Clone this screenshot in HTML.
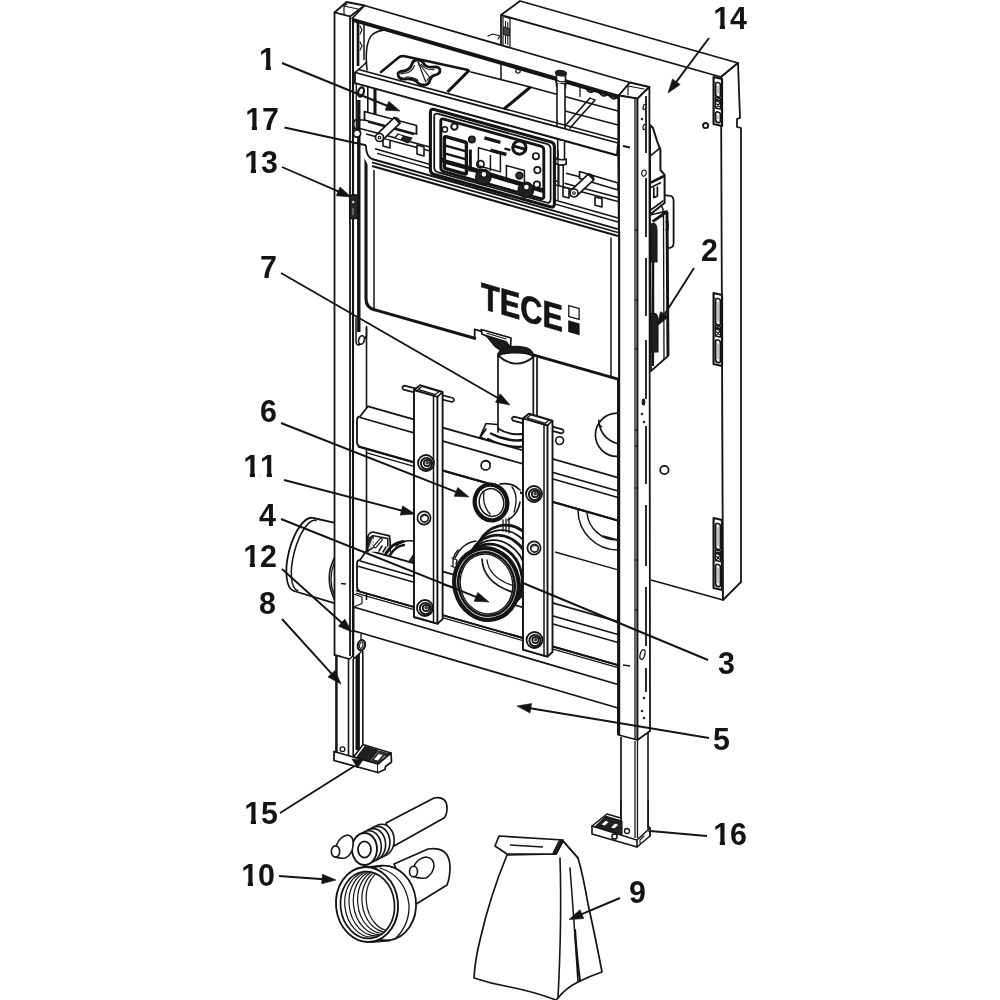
<!DOCTYPE html>
<html lang="en"><head><meta charset="utf-8"><title>TECE module exploded view</title>
<style>
html,body{margin:0;padding:0;background:#fff;}
body{width:1000px;height:1000px;overflow:hidden;}
svg{display:block;will-change:transform;}
text{font-family:"Liberation Sans",sans-serif;font-weight:700;fill:#141414;font-kerning:none}
</style></head><body>
<svg width="1000" height="1000" viewBox="0 0 1000 1000">
<rect width="1000" height="1000" fill="#fff"/>
<polygon points="501,15 520,1 738,63 721,77" fill="#fff" stroke="#141414" stroke-width="1.8" stroke-linejoin="round"/>
<line x1="501" y1="15" x2="501" y2="46" stroke="#141414" stroke-width="1.8"/>
<polygon points="503,16.5 510,18.5 510,48 503,46" fill="#fff" stroke="#141414" stroke-width="1.2" stroke-linejoin="round"/>
<line x1="505.5" y1="21" x2="505.5" y2="44" stroke="#141414" stroke-width="1.1"/>
<line x1="507.8" y1="22" x2="507.8" y2="45" stroke="#141414" stroke-width="1.1"/>
<polygon points="503.5,27 509.5,28.5 509.5,36 503.5,34.5" fill="#444" stroke="#141414" stroke-width="0.9" stroke-linejoin="round"/>
<line x1="722" y1="77" x2="723" y2="600" stroke="#141414" stroke-width="1.8"/>
<polygon points="721,77 738,63 740,118 737,119 737,127 741,128 741,582 723,600" fill="#fff" stroke="#141414" stroke-width="1.8" stroke-linejoin="round"/>
<line x1="723" y1="600" x2="651" y2="580" stroke="#141414" stroke-width="1.8"/>
<circle cx="705.6" cy="125.6" r="2.6" fill="#fff" stroke="#141414" stroke-width="1.8"/>
<circle cx="664.4" cy="470" r="4.2" fill="#fff" stroke="#141414" stroke-width="1.8"/>
<polygon points="713.6,77 722,79 722,126 713.6,124" fill="#fff" stroke="#141414" stroke-width="2.2" stroke-linejoin="round"/>
<path d="M715.6,84 Q715.6,82 717.8,82.5 Q720.4,83 720.4,85 L720.4,95.5 Q720.4,97.5 718,97.1 Q715.6,96.5 715.6,94.5 Z" fill="#fff" stroke="#141414" stroke-width="1.7" stroke-linejoin="round" stroke-linecap="round" />
<line x1="718" y1="86" x2="718" y2="93.5" stroke="#888" stroke-width="1"/>
<path d="M715.6,113.5 Q715.6,111.5 717.8,112.0 Q720.4,112.5 720.4,114.5 L720.4,121 Q720.4,123 718,122.6 Q715.6,122 715.6,120 Z" fill="#fff" stroke="#141414" stroke-width="1.7" stroke-linejoin="round" stroke-linecap="round" />
<line x1="718" y1="115.5" x2="718" y2="119" stroke="#888" stroke-width="1"/>
<path d="M715.4,97.5 L720.6,98.5 L720.6,109.0 L715.4,108.0 Z" fill="#fff" stroke="#141414" stroke-width="1.3" stroke-linejoin="round" stroke-linecap="round" />
<path d="M716.6,99.5 l3,0.6 l0,2 l-3,-0.6 Z M716.6,104.0 l3,2.5 M719.6,103.5 l-3,3.6" fill="#333" stroke="#141414" stroke-width="1.2" stroke-linejoin="round" stroke-linecap="round" />
<polygon points="713.6,293 722,295 722,366 713.6,364" fill="#fff" stroke="#141414" stroke-width="2.2" stroke-linejoin="round"/>
<path d="M715.6,300 Q715.6,298 717.8,298.5 Q720.4,299 720.4,301 L720.4,323.5 Q720.4,325.5 718,325.1 Q715.6,324.5 715.6,322.5 Z" fill="#fff" stroke="#141414" stroke-width="1.7" stroke-linejoin="round" stroke-linecap="round" />
<line x1="718" y1="302" x2="718" y2="321.5" stroke="#888" stroke-width="1"/>
<path d="M715.6,341.5 Q715.6,339.5 717.8,340.0 Q720.4,340.5 720.4,342.5 L720.4,361 Q720.4,363 718,362.6 Q715.6,362 715.6,360 Z" fill="#fff" stroke="#141414" stroke-width="1.7" stroke-linejoin="round" stroke-linecap="round" />
<line x1="718" y1="343.5" x2="718" y2="359" stroke="#888" stroke-width="1"/>
<path d="M715.4,325.5 L720.6,326.5 L720.6,337.0 L715.4,336.0 Z" fill="#fff" stroke="#141414" stroke-width="1.3" stroke-linejoin="round" stroke-linecap="round" />
<path d="M716.6,327.5 l3,0.6 l0,2 l-3,-0.6 Z M716.6,332.0 l3,2.5 M719.6,331.5 l-3,3.6" fill="#333" stroke="#141414" stroke-width="1.2" stroke-linejoin="round" stroke-linecap="round" />
<polygon points="713.6,518 722,520 722,590 713.6,588" fill="#fff" stroke="#141414" stroke-width="2.2" stroke-linejoin="round"/>
<path d="M715.6,525 Q715.6,523 717.8,523.5 Q720.4,524 720.4,526 L720.4,548.0 Q720.4,550.0 718,549.6 Q715.6,549.0 715.6,547.0 Z" fill="#fff" stroke="#141414" stroke-width="1.7" stroke-linejoin="round" stroke-linecap="round" />
<line x1="718" y1="527" x2="718" y2="546" stroke="#888" stroke-width="1"/>
<path d="M715.6,566.0 Q715.6,564.0 717.8,564.5 Q720.4,565.0 720.4,567.0 L720.4,585 Q720.4,587 718,586.6 Q715.6,586 715.6,584 Z" fill="#fff" stroke="#141414" stroke-width="1.7" stroke-linejoin="round" stroke-linecap="round" />
<line x1="718" y1="568" x2="718" y2="583" stroke="#888" stroke-width="1"/>
<path d="M715.4,550.0 L720.6,551.0 L720.6,561.5 L715.4,560.5 Z" fill="#fff" stroke="#141414" stroke-width="1.3" stroke-linejoin="round" stroke-linecap="round" />
<path d="M716.6,552.0 l3,0.6 l0,2 l-3,-0.6 Z M716.6,556.5 l3,2.5 M719.6,556.0 l-3,3.6" fill="#333" stroke="#141414" stroke-width="1.2" stroke-linejoin="round" stroke-linecap="round" />
<polygon points="650,215 667,211 668,356 651,371" fill="#fff" stroke="#141414" stroke-width="1.7" stroke-linejoin="round"/>
<line x1="667" y1="212" x2="668" y2="356" stroke="#141414" stroke-width="2.9"/>
<line x1="663.5" y1="216" x2="664" y2="359" stroke="#141414" stroke-width="1.3"/>
<path d="M664.6,195.2 L670,195.8 Q673.6,196 673.6,201.2 L673.6,243.2 Q673.6,248 668.2,248" fill="none" stroke="#141414" stroke-width="1.8" stroke-linejoin="round" stroke-linecap="round" />
<path d="M650,125 L653,128 L657,141 L660.4,149.6 L660.4,170 L664.6,174.8 L664.6,203 L652,213 L650,213 Z" fill="#fff" stroke="#141414" stroke-width="2" stroke-linejoin="round" stroke-linecap="round" />
<line x1="650.8" y1="155.6" x2="660.4" y2="147.6" stroke="#141414" stroke-width="1.6"/>
<line x1="650.8" y1="182.6" x2="664" y2="176" stroke="#141414" stroke-width="2.7"/>
<line x1="651" y1="187.5" x2="661" y2="182.5" stroke="#141414" stroke-width="1.5"/>
<path d="M653.8,188 L653.8,197.6 L657.4,196 L657.4,187" fill="none" stroke="#141414" stroke-width="1.7" stroke-linejoin="round" stroke-linecap="round" />
<line x1="650.8" y1="210" x2="663.4" y2="200.6" stroke="#141414" stroke-width="1.6"/>
<line x1="652.6" y1="221.6" x2="666.4" y2="212" stroke="#141414" stroke-width="2.9"/>
<path d="M661,205 l2,4 l0,8 M666,222 l2,0 l0,8 l-2,0" fill="none" stroke="#141414" stroke-width="1.5" stroke-linejoin="round" stroke-linecap="round" />
<path d="M651,224 Q657,221 657,231 L657,262 L651,262 Z" fill="#1e1e1e" stroke="#141414" stroke-width="1.1" stroke-linejoin="round" stroke-linecap="round" />
<line x1="653" y1="262" x2="653" y2="314" stroke="#141414" stroke-width="2.5"/>
<path d="M651,314 Q658,311 658,321 L658,352 L651,352 Z" fill="#1e1e1e" stroke="#141414" stroke-width="1.1" stroke-linejoin="round" stroke-linecap="round" />
<line x1="653" y1="352" x2="653" y2="366" stroke="#141414" stroke-width="2.2"/>
<path d="M313.2,518 A14.9,37.7 14.6 0 0 294,591 L336,603.8 L336,523.2 Z" fill="#fff" stroke="none"/>
<path d="M313.2,518 A14.9,37.7 14.6 0 0 294,591" fill="none" stroke="#141414" stroke-width="1.8" stroke-linejoin="round" stroke-linecap="round" />
<path d="M316,520.5 A12.6,35.2 14.6 0 0 297.6,590.5" fill="none" stroke="#141414" stroke-width="1.5" stroke-linejoin="round" stroke-linecap="round" />
<line x1="313.2" y1="518" x2="335" y2="522.9" stroke="#141414" stroke-width="1.8"/>
<line x1="294" y1="591" x2="335" y2="603.4" stroke="#141414" stroke-width="1.8"/>
<path d="M334.5,557.6 Q324,578 334.5,599.6" fill="none" stroke="#141414" stroke-width="1.6" stroke-linejoin="round" stroke-linecap="round" />
<path d="M334.5,562 Q327.5,579 334.5,596" fill="none" stroke="#141414" stroke-width="1.3" stroke-linejoin="round" stroke-linecap="round" />
<line x1="358" y1="21" x2="358" y2="66" stroke="#141414" stroke-width="2.7"/>
<line x1="364" y1="23" x2="364" y2="60" stroke="#141414" stroke-width="1.5"/>
<path d="M360,26 l2,4 l-2,4 M360,42 l2,4 l-2,4" fill="none" stroke="#141414" stroke-width="1.2" stroke-linejoin="round" stroke-linecap="round" />
<path d="M367,70 Q364,42 373,34 Q380,29 392,30" fill="none" stroke="#141414" stroke-width="1.6" stroke-linejoin="round" stroke-linecap="round" />
<path d="M381,72 L398,58 Q401,55 406,56.5 L468,70" fill="none" stroke="#141414" stroke-width="2.5" stroke-linejoin="round" stroke-linecap="round" />
<line x1="469.5" y1="70" x2="447.5" y2="92" stroke="#141414" stroke-width="3.1"/>
<path d="M471,72 L530,87" fill="none" stroke="#141414" stroke-width="1.7" stroke-linejoin="round" stroke-linecap="round" />
<line x1="530.5" y1="87" x2="504" y2="109" stroke="#141414" stroke-width="3.1"/>
<line x1="501" y1="58" x2="501" y2="80" stroke="#141414" stroke-width="1.5"/>
<circle cx="518" cy="71" r="2.2" fill="#fff" stroke="#141414" stroke-width="1.2"/>
<line x1="530" y1="87" x2="618" y2="111" stroke="#141414" stroke-width="1.5"/>
<path d="M398,74 Q398,71.5 404,71 Q410,70 412,64 Q413,60 417.5,60 Q422,60 424,64 Q427,68 434,67 Q440,66.5 440,70.5 Q440,74 435,75 Q431,76 430,80 Q429,85 424,85 Q419,85 416,81 Q412,78.5 405,79 Q398,79.5 398,74 Z" fill="#fff" stroke="#141414" stroke-width="2.8" stroke-linejoin="round" stroke-linecap="round" />
<path d="M401,74 Q402,73 405,73.2 Q412,72.5 414.5,65.5 M421.5,64.5 Q425.5,70.5 434,69.6 M427,81 Q427.6,77.5 432,76.5 M418,80.5 Q414,76.5 406,77" fill="none" stroke="#141414" stroke-width="1.1" stroke-linejoin="round" stroke-linecap="round" />
<line x1="418" y1="62" x2="426" y2="82.5" stroke="#141414" stroke-width="1.2"/>
<line x1="418" y1="62" x2="430.5" y2="78.5" stroke="#141414" stroke-width="1.1"/>
<path d="M488,36 l5,-2 l7,2 l-2,3" fill="none" stroke="#141414" stroke-width="1.2" stroke-linejoin="round" stroke-linecap="round" />
<path d="M565,126 L590,98 M570,128 L595,100" fill="none" stroke="#141414" stroke-width="1.6" stroke-linejoin="round" stroke-linecap="round" />
<line x1="590" y1="98" x2="595" y2="100" stroke="#141414" stroke-width="1.3"/>
<path d="M586,88.604 q4,6 8,2" fill="none" stroke="#141414" stroke-width="1.8" stroke-linejoin="round" stroke-linecap="round" />
<path d="M599,92.348 q4,6 8,2" fill="none" stroke="#141414" stroke-width="1.8" stroke-linejoin="round" stroke-linecap="round" />
<path d="M609,95.228 q4,6 8,2" fill="none" stroke="#141414" stroke-width="1.8" stroke-linejoin="round" stroke-linecap="round" />
<line x1="580" y1="86" x2="580" y2="97" stroke="#141414" stroke-width="1.3"/>
<line x1="565" y1="111" x2="618" y2="125" stroke="#141414" stroke-width="1.3"/>
<rect x="557" y="76" width="8" height="106" fill="#fff" stroke="none"/>
<line x1="557" y1="78" x2="557" y2="182" stroke="#141414" stroke-width="1.6"/>
<line x1="565" y1="80" x2="565" y2="184" stroke="#141414" stroke-width="1.6"/>
<ellipse cx="561" cy="73.5" rx="5" ry="2.2" transform="rotate(10 561 73.5)" fill="#222" stroke="#141414" stroke-width="1.3"/>
<path d="M556,76 L556,82 L566,84 L566,78" fill="none" stroke="#141414" stroke-width="1.5" stroke-linejoin="round" stroke-linecap="round" />
<polygon points="364.5,5.5 630,82.5 618.7,95.5 352,18.5" fill="#fff" stroke="#141414" stroke-width="1.8" stroke-linejoin="round"/>
<line x1="352" y1="20" x2="618.7" y2="97.5" stroke="#141414" stroke-width="3.1"/>
<polygon points="355,72.5 618,143 617,155.5 355,83.5" fill="#fff" stroke="#141414" stroke-width="1.8" stroke-linejoin="round"/>
<line x1="355" y1="72.5" x2="367" y2="62" stroke="#141414" stroke-width="1.6"/>
<line x1="358.5" y1="69.5" x2="618" y2="139.5" stroke="#141414" stroke-width="1.5"/>
<line x1="355" y1="83.5" x2="617" y2="155.5" stroke="#141414" stroke-width="2.7"/>
<polygon points="334.5,12.5 346.5,2 364.5,5.5 350,16.5" fill="#fff" stroke="#141414" stroke-width="1.8" stroke-linejoin="round"/>
<polygon points="334.5,12.5 350,16.5 350,659 334.5,655" fill="#fff" stroke="#141414" stroke-width="1.8" stroke-linejoin="round"/>
<line x1="353" y1="19" x2="353" y2="659" stroke="#141414" stroke-width="2.1"/>
<path d="M344,14 L344,6 L347,4 M344,6 L358,9" fill="none" stroke="#141414" stroke-width="1.2" stroke-linejoin="round" stroke-linecap="round" />
<polygon points="618.7,95.5 630,82.5 649.4,87 637.5,98.7" fill="#fff" stroke="#141414" stroke-width="1.8" stroke-linejoin="round"/>
<polygon points="618.7,95.5 637.5,98.7 637.5,740 618.7,735" fill="#fff" stroke="#141414" stroke-width="1.8" stroke-linejoin="round"/>
<polygon points="637.5,98.7 649.4,87 650,731 637.5,740" fill="#fff" stroke="#141414" stroke-width="1.8" stroke-linejoin="round"/>
<line x1="635" y1="98" x2="635" y2="739" stroke="#141414" stroke-width="1.3"/>
<line x1="618.7" y1="95.5" x2="618.7" y2="735" stroke="#141414" stroke-width="2.5"/>
<line x1="618.6" y1="232" x2="618.6" y2="735" stroke="#141414" stroke-width="3.2"/>
<path d="M628,95 L628,86 M628,86 L644,89" fill="none" stroke="#141414" stroke-width="1.2" stroke-linejoin="round" stroke-linecap="round" />
<line x1="646" y1="96" x2="646" y2="153" stroke="#141414" stroke-width="1.8"/>
<line x1="646" y1="178" x2="646" y2="237" stroke="#141414" stroke-width="1.8"/>
<line x1="646" y1="258" x2="646" y2="316" stroke="#141414" stroke-width="1.8"/>
<line x1="646" y1="340" x2="646" y2="399" stroke="#141414" stroke-width="1.8"/>
<line x1="646" y1="426" x2="646" y2="484" stroke="#141414" stroke-width="1.8"/>
<line x1="646" y1="505" x2="646" y2="566" stroke="#141414" stroke-width="1.8"/>
<line x1="646" y1="587" x2="646" y2="646" stroke="#141414" stroke-width="1.8"/>
<line x1="646" y1="668" x2="646" y2="692" stroke="#141414" stroke-width="1.8"/>
<ellipse cx="644.5" cy="107" rx="1.4" ry="2.6" transform="rotate(10 644.5 107)" fill="#fff" stroke="#141414" stroke-width="1.2"/>
<ellipse cx="644.5" cy="127" rx="1.4" ry="2.6" transform="rotate(10 644.5 127)" fill="#fff" stroke="#141414" stroke-width="1.2"/>
<path d="M644,170 q-3,1 -2,5 q2,3 4,-1 q1,-4 -2,-4" fill="none" stroke="#141414" stroke-width="1.2" stroke-linejoin="round" stroke-linecap="round" />
<ellipse cx="642.5" cy="654.5" rx="2.3" ry="5" transform="rotate(15 642.5 654.5)" fill="#fff" stroke="#141414" stroke-width="1.3"/>
<ellipse cx="643.5" cy="402" rx="1.3" ry="3" transform="rotate(0 643.5 402)" fill="#222" stroke="#141414" stroke-width="1.1"/>
<circle cx="642" cy="414" r="0.9" fill="#222" stroke="#141414" stroke-width="0.9"/>
<circle cx="644" cy="422" r="0.9" fill="#222" stroke="#141414" stroke-width="0.9"/>
<circle cx="644" cy="698" r="0.9" fill="#222" stroke="#141414" stroke-width="0.9"/>
<circle cx="642" cy="711" r="0.9" fill="#222" stroke="#141414" stroke-width="0.9"/>
<circle cx="644" cy="718" r="0.9" fill="#222" stroke="#141414" stroke-width="0.9"/>
<circle cx="642" cy="119" r="0.9" fill="#222" stroke="#141414" stroke-width="0.9"/>
<line x1="623" y1="665" x2="630" y2="666" stroke="#141414" stroke-width="1.6"/>
<line x1="623" y1="146" x2="630" y2="147.5" stroke="#141414" stroke-width="1.8"/>
<line x1="341" y1="583.5" x2="346" y2="584" stroke="#141414" stroke-width="1.3"/>
<line x1="634.5" y1="349" x2="637.8" y2="349" stroke="#141414" stroke-width="1.1"/>
<line x1="634.5" y1="430" x2="637.8" y2="430" stroke="#141414" stroke-width="1.1"/>
<line x1="634.5" y1="446" x2="637.8" y2="446" stroke="#141414" stroke-width="1.1"/>
<line x1="634.5" y1="488" x2="637.8" y2="488" stroke="#141414" stroke-width="1.1"/>
<line x1="634.5" y1="230" x2="637.8" y2="230" stroke="#141414" stroke-width="1.1"/>
<line x1="634.5" y1="300" x2="637.8" y2="300" stroke="#141414" stroke-width="1.1"/>
<line x1="634.5" y1="560" x2="637.8" y2="560" stroke="#141414" stroke-width="1.1"/>
<line x1="634.5" y1="610" x2="637.8" y2="610" stroke="#141414" stroke-width="1.1"/>
<rect x="556.5" y="74" width="9" height="9" fill="#fff" stroke="none"/>
<path d="M556.5,75 L556.5,86 M565.5,76 L565.5,88" fill="none" stroke="#141414" stroke-width="1.6" stroke-linejoin="round" stroke-linecap="round" />
<ellipse cx="561" cy="73.2" rx="5.4" ry="2.6" transform="rotate(8 561 73.2)" fill="#222" stroke="#141414" stroke-width="1.3"/>
<path d="M556.5,80 Q561,83 565.5,81" fill="none" stroke="#141414" stroke-width="1.3" stroke-linejoin="round" stroke-linecap="round" />
<path d="M366.3,150 L366.3,299 Q366.3,308 375,309.87 L474.7,338.28450000000004 L474.7,329.28450000000004 L481,331.08000000000004 L533,354.90000000000003 L618,379.125 L618,228 L365.5,150 Z" fill="#fff" stroke="#fff" stroke-width="0.1" stroke-linejoin="round" stroke-linecap="round" />
<path d="M366,135 L366,299 Q366,308 375,309.87 L474.7,338.28450000000004" fill="none" stroke="#141414" stroke-width="3.1" stroke-linejoin="round" stroke-linecap="round" />
<path d="M474.7,338.78450000000004 L474.7,329.28450000000004 L481,331.08000000000004" fill="none" stroke="#141414" stroke-width="1.8" stroke-linejoin="round" stroke-linecap="round" />
<path d="M533,354.90000000000003 L618,379.125" fill="none" stroke="#141414" stroke-width="2.7" stroke-linejoin="round" stroke-linecap="round" />
<line x1="374" y1="166" x2="374" y2="309.6" stroke="#141414" stroke-width="1.5"/>
<line x1="611" y1="234.5" x2="611" y2="377.1" stroke="#141414" stroke-width="1.5"/>
<path d="M355,84 L617,156.5 L618,239.52499999999998 L370,168.845 L360,150 Z" fill="#fff" stroke="none"/>
<line x1="372" y1="159" x2="618" y2="229.1" stroke="#141414" stroke-width="2"/>
<line x1="372" y1="162.4" x2="618" y2="232.5" stroke="#141414" stroke-width="1.7"/>
<line x1="372" y1="166" x2="618" y2="236.1" stroke="#141414" stroke-width="2.1"/>
<path d="M366,146 Q366,156 372,159" fill="none" stroke="#141414" stroke-width="1.8" stroke-linejoin="round" stroke-linecap="round" />
<line x1="375" y1="148.8" x2="618" y2="218" stroke="#141414" stroke-width="1.5"/>
<line x1="377" y1="153.3" x2="618" y2="222" stroke="#141414" stroke-width="1.3"/>
<line x1="356.3" y1="84" x2="356.3" y2="130" stroke="#141414" stroke-width="1.3"/>
<line x1="358.8" y1="100" x2="358.8" y2="332" stroke="#141414" stroke-width="3.4"/>
<path d="M349.8,196 Q354,193.5 358,196 L358,218.5 L349.8,218.5 Z" fill="#262626" stroke="#141414" stroke-width="1.7" stroke-linejoin="round" stroke-linecap="round" />
<circle cx="353.2" cy="202" r="1.5" fill="#fff" stroke="#141414" stroke-width="0.7"/>
<line x1="353" y1="208" x2="353" y2="215" stroke="#999" stroke-width="1.1"/>
<path d="M356,318 L356,342 Q358,350 366.5,336 L366.5,328" fill="none" stroke="#141414" stroke-width="1.5" stroke-linejoin="round" stroke-linecap="round" />
<ellipse cx="361.5" cy="340" rx="2.8" ry="4.3" transform="rotate(15 361.5 340)" fill="#fff" stroke="#141414" stroke-width="1.6"/>
<line x1="367.8" y1="86.5" x2="367.8" y2="118" stroke="#141414" stroke-width="1.6"/>
<line x1="375" y1="89" x2="375" y2="122" stroke="#141414" stroke-width="3.1"/>
<line x1="358" y1="128" x2="430" y2="147" stroke="#141414" stroke-width="1.7"/>
<line x1="366" y1="134" x2="430" y2="151" stroke="#141414" stroke-width="1.3"/>
<polygon points="364.5,111.5 416.5,125.5 416.5,134 364.5,120" fill="#fff" stroke="#141414" stroke-width="1.8" stroke-linejoin="round"/>
<path d="M364.5,120 L355,120 M355,120 Q352,124 355,129 L358,128" fill="none" stroke="#141414" stroke-width="1.7" stroke-linejoin="round" stroke-linecap="round" />
<line x1="368" y1="122" x2="414" y2="134.5" stroke="#141414" stroke-width="1.3"/>
<path d="M383,139 L383,146 L390,148 L390,141" fill="#fff" stroke="#141414" stroke-width="1.6" stroke-linejoin="round" stroke-linecap="round" />
<path d="M398,134 L404,136 L401,140 L395,138 Z" fill="#fff" stroke="#141414" stroke-width="1.3" stroke-linejoin="round" stroke-linecap="round" />
<path d="M404,136 L412,138 L408,143 L401,140 Z" fill="#222" stroke="#141414" stroke-width="1.1" stroke-linejoin="round" stroke-linecap="round" />
<polygon points="417,145 424,147 424,156 417,154" fill="#fff" stroke="#141414" stroke-width="1.6" stroke-linejoin="round"/>
<polygon points="382.3,140.4 399.8,123.4 394.2,117.6 376.7,134.6" fill="#fff" stroke="#141414" stroke-width="1.7" stroke-linejoin="round"/>
<path d="M399.8,123.4 Q399.5,117.5 394.2,117.6" fill="#222" stroke="#141414" stroke-width="1.7" stroke-linejoin="round" stroke-linecap="round" />
<circle cx="379.5" cy="137.5" r="4" fill="#fff" stroke="#141414" stroke-width="1.7"/>
<circle cx="379.5" cy="137.5" r="1.3" fill="#fff" stroke="#141414" stroke-width="1.1"/>
<circle cx="357" cy="133.5" r="3.6" fill="#fff" stroke="#141414" stroke-width="1.8"/>
<ellipse cx="361" cy="92" rx="2.8" ry="4.8" transform="rotate(15 361 92)" fill="#fff" stroke="#141414" stroke-width="2.2"/>
<line x1="556" y1="181" x2="618" y2="197.5" stroke="#141414" stroke-width="1.7"/>
<line x1="556" y1="185" x2="618" y2="201.5" stroke="#141414" stroke-width="1.3"/>
<polygon points="579.5,171.5 618,183 618,190 579.5,178.5" fill="#fff" stroke="#141414" stroke-width="1.7" stroke-linejoin="round"/>
<polygon points="563,187 569,188.6 569,198 563,196.4" fill="#fff" stroke="#141414" stroke-width="1.6" stroke-linejoin="round"/>
<polygon points="595,197 602,198.8 602,207 595,205.2" fill="#fff" stroke="#141414" stroke-width="1.6" stroke-linejoin="round"/>
<polygon points="576.7,195.9 593.7,179.9 588.3,174.1 571.3,190.1" fill="#fff" stroke="#141414" stroke-width="1.7" stroke-linejoin="round"/>
<path d="M593.7,179.9 Q593.5,174 588.3,174.1" fill="#222" stroke="#141414" stroke-width="1.7" stroke-linejoin="round" stroke-linecap="round" />
<circle cx="574" cy="193" r="4" fill="#fff" stroke="#141414" stroke-width="1.7"/>
<circle cx="574" cy="193" r="1.3" fill="#fff" stroke="#141414" stroke-width="1.1"/>
<rect x="558" y="141" width="6.5" height="44" fill="#fff" stroke="none"/>
<line x1="557.7" y1="139" x2="557.7" y2="158" stroke="#141414" stroke-width="1.6"/>
<line x1="564.5" y1="141" x2="564.5" y2="159" stroke="#141414" stroke-width="1.6"/>
<line x1="558.8" y1="164" x2="558.8" y2="186" stroke="#141414" stroke-width="1.5"/>
<line x1="563.2" y1="165" x2="563.2" y2="187" stroke="#141414" stroke-width="1.5"/>
<path d="M555.6,158 Q561,161 566.2,159 L566.2,164 Q561,166.5 555.6,163.5 Z" fill="#fff" stroke="#141414" stroke-width="1.6" stroke-linejoin="round" stroke-linecap="round" />
<line x1="566" y1="173.2" x2="579.5" y2="176.8" stroke="#141414" stroke-width="1.5"/>
<line x1="558" y1="150" x2="558" y2="200" stroke="#141414" stroke-width="1.3"/>
<path d="M434.4,109.5 L550.4,141.8 Q554.4,142.9 554.4,146.9 L554.4,203.9 Q554.4,207.9 550.4,206.8 L434.4,174.5 Q430.4,173.4 430.4,169.4 L430.4,112.4 Q430.4,108.4 434.4,109.5 Z" fill="#fff" stroke="#141414" stroke-width="3.1" stroke-linejoin="round" stroke-linecap="round" />
<path d="M438.2,113.8 L546.6,143.9 Q550.6,145 550.6,149 L550.6,199.6 Q550.6,203.6 546.6,202.5 L438.2,172.4 Q434.2,171.3 434.2,167.3 L434.2,116.7 Q434.2,112.7 438.2,113.8 Z" fill="#fff" stroke="#141414" stroke-width="1.8" stroke-linejoin="round" stroke-linecap="round" />
<path d="M443.8,119.1 L540.8,146.1 Q543.8,146.9 543.8,149.9 L543.8,196.4 Q543.8,199.4 540.8,198.6 L443.8,171.6 Q440.8,170.8 440.8,167.8 L440.8,121.3 Q440.8,118.3 443.8,119.1 Z" fill="#fff" stroke="#141414" stroke-width="2.9" stroke-linejoin="round" stroke-linecap="round" />
<line x1="441.4" y1="160" x2="543.4" y2="190.8" stroke="#141414" stroke-width="4.7"/>
<path d="M445.9,136.7 L464.9,142 Q466.4,142.4 466.4,143.9 L466.4,172.9 Q466.4,174.4 464.9,174 L445.9,168.7 Q444.4,168.3 444.4,166.8 L444.4,137.8 Q444.4,136.3 445.9,136.7 Z" fill="#fff" stroke="#141414" stroke-width="3.4" stroke-linejoin="round" stroke-linecap="round" />
<line x1="445.4" y1="145.6" x2="465.4" y2="151.1" stroke="#141414" stroke-width="2.5"/>
<line x1="445.4" y1="153.6" x2="465.4" y2="159.1" stroke="#141414" stroke-width="2.5"/>
<line x1="445.4" y1="161.6" x2="465.4" y2="167.1" stroke="#141414" stroke-width="4.5"/>
<line x1="470.4" y1="149.5" x2="470.4" y2="171.5" stroke="#141414" stroke-width="2.9"/>
<circle cx="444.9" cy="129.4" r="2.6" fill="#fff" stroke="#141414" stroke-width="1.5"/>
<circle cx="454.4" cy="126.6" r="3.2" fill="#fff" stroke="#141414" stroke-width="2"/>
<circle cx="471.9" cy="139.4" r="3.2" fill="#333" stroke="#141414" stroke-width="1.6"/>
<circle cx="480.4" cy="164.3" r="3.6" fill="#fff" stroke="#141414" stroke-width="1.8"/>
<circle cx="535.9" cy="156.2" r="3.2" fill="#fff" stroke="#141414" stroke-width="1.7"/>
<circle cx="537.4" cy="170.1" r="3.2" fill="#fff" stroke="#141414" stroke-width="1.7"/>
<circle cx="536.9" cy="184.5" r="3.2" fill="#fff" stroke="#141414" stroke-width="1.7"/>
<circle cx="519.4" cy="175.6" r="3.4" fill="#333" stroke="#141414" stroke-width="1.6"/>
<circle cx="519.4" cy="147.6" r="6.6" fill="#fff" stroke="#141414" stroke-width="3.1"/>
<line x1="512.4" y1="145.7" x2="526.4" y2="149.6" stroke="#141414" stroke-width="2.9"/>
<line x1="484.4" y1="137.9" x2="500.4" y2="142.4" stroke="#141414" stroke-width="3.4"/>
<line x1="490.4" y1="150.1" x2="506.4" y2="154.5" stroke="#141414" stroke-width="3.4"/>
<line x1="504.4" y1="148.5" x2="510.4" y2="150.1" stroke="#141414" stroke-width="2.2"/>
<polygon points="478.4,147.7 500.4,153.9 500.4,171.9 478.4,165.7" fill="none" stroke="#141414" stroke-width="1.5" stroke-linejoin="round"/>
<polygon points="506.4,165.5 524.4,170.5 524.4,184.5 506.4,179.5" fill="none" stroke="#141414" stroke-width="1.5" stroke-linejoin="round"/>
<line x1="490.4" y1="155.1" x2="490.4" y2="171.1" stroke="#141414" stroke-width="1.5"/>
<circle cx="483.4" cy="177.1" r="7.6" fill="#222" stroke="#141414" stroke-width="1.6"/>
<circle cx="483.9" cy="174.3" r="3" fill="#fff" stroke="#141414" stroke-width="1.3"/>
<circle cx="525.9" cy="189.9" r="7.6" fill="#222" stroke="#141414" stroke-width="1.6"/>
<circle cx="526.4" cy="187.1" r="3" fill="#fff" stroke="#141414" stroke-width="1.3"/>
<g transform="translate(481,308.5) skewY(15.9)"><text x="0" y="0" font-size="37.5" textLength="82" lengthAdjust="spacingAndGlyphs" stroke="#141414" stroke-width="0.7" style="font-weight:700">TECE</text><rect x="87.8" y="-27.9" width="10.3" height="10.8" fill="#fff" stroke="#141414" stroke-width="1.3"/><rect x="87.2" y="-13.2" width="11.4" height="11.8" fill="#141414"/></g>
<line x1="366.5" y1="326" x2="366.5" y2="600" stroke="#141414" stroke-width="1.6"/>
<path d="M498,352 L533,358 L533,436 L498,436 Z" fill="#fff" stroke="none"/>
<path d="M481,331.5 Q488,337 493,344 Q497,349.5 505,351 L510.8,348 L506.5,342.5 Q497,339.5 489,335.5 Q484,333 481,331.5 Z" fill="#1c1c1c" stroke="#141414" stroke-width="1.3" stroke-linejoin="round" stroke-linecap="round" />
<path d="M481.2,329.5 L511,338 L510.6,347.5 L506,341.8 L482,334.2 Z" fill="#fff" stroke="#141414" stroke-width="1.7" stroke-linejoin="round" stroke-linecap="round" />
<path d="M487,333.2 L506,339" fill="none" stroke="#141414" stroke-width="1.1" stroke-linejoin="round" stroke-linecap="round" />
<path d="M498,356.5 Q498,346.5 515.6,346.5 Q533.3,346.5 533.5,357 Q530,352.8 515.6,352.8 Q501,352.8 498,356.5 Z" fill="#1c1c1c" stroke="#141414" stroke-width="1.5" stroke-linejoin="round" stroke-linecap="round" />
<path d="M498,355.5 Q515.6,371 533.5,357" fill="none" stroke="#141414" stroke-width="1.8" stroke-linejoin="round" stroke-linecap="round" />
<path d="M498,354 L498,432 M533.3,357 L533.3,424 M537,358 L537,420" fill="none" stroke="#141414" stroke-width="1.7" stroke-linejoin="round" stroke-linecap="round" />
<path d="M488,439 Q515,453 543,442" fill="none" stroke="#141414" stroke-width="2.2" stroke-linejoin="round" stroke-linecap="round" />
<path d="M491,433.5 Q515,446 538,436" fill="none" stroke="#141414" stroke-width="2.5" stroke-linejoin="round" stroke-linecap="round" />
<path d="M498,428.5 Q515,439 533,430.5" fill="none" stroke="#141414" stroke-width="2" stroke-linejoin="round" stroke-linecap="round" />
<path d="M486,423.5 L497,424.5 M486,423.5 L480,437 L489,441 M486,429 L479,439 M480,437 L476,444 L486,449" fill="none" stroke="#141414" stroke-width="1.7" stroke-linejoin="round" stroke-linecap="round" />
<path d="M617,413.2 A21.6,21.6 0 0 0 617,456.4" fill="none" stroke="#141414" stroke-width="1.7" stroke-linejoin="round" stroke-linecap="round" />
<path d="M598.8,420.4 Q600,438 617,443.6 M598.8,420.4 l0.8,5 l2,1.2" fill="none" stroke="#141414" stroke-width="1.6" stroke-linejoin="round" stroke-linecap="round" />
<path d="M578,510 A40,40 0 0 0 618,550" fill="none" stroke="#141414" stroke-width="1.5" stroke-linejoin="round" stroke-linecap="round" />
<path d="M587,513 A30,30 0 0 0 618,540" fill="none" stroke="#141414" stroke-width="1.5" stroke-linejoin="round" stroke-linecap="round" />
<line x1="603" y1="536" x2="618" y2="540" stroke="#141414" stroke-width="1.3"/>
<line x1="555" y1="552" x2="618" y2="569.9" stroke="#141414" stroke-width="1.5"/>
<path d="M368,406.275 L618,477.525 L618,520.525 L360,446.995 Q357,445.14 357,442.14 L357,420.64 Q357,416.64 360,416.495 Z" fill="#fff" stroke="#141414" stroke-width="1.8" stroke-linejoin="round" stroke-linecap="round" />
<line x1="360" y1="417.5" x2="618" y2="491" stroke="#141414" stroke-width="1.8"/>
<line x1="553" y1="479" x2="618" y2="497.5" stroke="#141414" stroke-width="1.3"/>
<line x1="358" y1="446.4" x2="618" y2="520.5" stroke="#141414" stroke-width="2.2"/>
<line x1="366" y1="452.7" x2="414" y2="466.4" stroke="#141414" stroke-width="1.2"/>
<circle cx="485.6" cy="465.4" r="4.5" fill="#fff" stroke="#141414" stroke-width="1.7"/>
<path d="M482.4,462 q4.5,-4 8,1.5" fill="none" stroke="#141414" stroke-width="1.2" stroke-linejoin="round" stroke-linecap="round" />
<path d="M367,549.99 L618,621.525 L618,665.125 L360,591.595 Q357,589.74 357,586.74 L357,564.14 Q357,560.14 360,559.995 Z" fill="#fff" stroke="#141414" stroke-width="1.8" stroke-linejoin="round" stroke-linecap="round" />
<line x1="360" y1="561" x2="618" y2="634.5" stroke="#141414" stroke-width="1.7"/>
<line x1="358" y1="566.2" x2="414" y2="582.2" stroke="#141414" stroke-width="1.5"/>
<line x1="553" y1="624" x2="618" y2="642.5" stroke="#141414" stroke-width="1.3"/>
<line x1="356" y1="590.5" x2="618" y2="665.1" stroke="#141414" stroke-width="1.8"/>
<line x1="356" y1="593.1" x2="618" y2="667.7" stroke="#141414" stroke-width="1.3"/>
<polygon points="353.6,607 618,684.5 618,708 361,633 353.6,631" fill="#fff" stroke="#141414" stroke-width="1.8" stroke-linejoin="round"/>
<polygon points="353.6,594 353.6,607 362,603.5 362,597" fill="#fff" stroke="#141414" stroke-width="1.2" stroke-linejoin="round"/>
<path d="M367.8,552 L367.8,537 Q368.5,532.5 373,532 L389.5,535.8 L390.2,543 L390.2,551" fill="#fff" stroke="#141414" stroke-width="1.7" stroke-linejoin="round" stroke-linecap="round" />
<path d="M374.6,536 L387.8,538.4 L387.8,546" fill="none" stroke="#141414" stroke-width="1.5" stroke-linejoin="round" stroke-linecap="round" />
<path d="M368.5,538 L373.5,535 L373.5,548 L368.5,551 Z" fill="#2a2a2a" stroke="#141414" stroke-width="0.9" stroke-linejoin="round" stroke-linecap="round" />
<line x1="369" y1="549" x2="373" y2="538.5" stroke="#fff" stroke-width="1.1"/>
<line x1="370.6" y1="548.2" x2="374.6" y2="537.7" stroke="#fff" stroke-width="1.1"/>
<line x1="372.2" y1="547.4" x2="376.2" y2="536.9" stroke="#fff" stroke-width="1.1"/>
<path d="M375,546.5 L381,539.5" fill="none" stroke="#141414" stroke-width="3.6" stroke-linejoin="round" stroke-linecap="round" />
<path d="M375,546.5 L381,539.5" fill="none" stroke="#fff" stroke-width="1.3" stroke-linejoin="round" stroke-linecap="round" />
<path d="M379,551 L382,546 M383,552 L386,547" fill="none" stroke="#141414" stroke-width="1.5" stroke-linejoin="round" stroke-linecap="round" />
<path d="M386,553.5 Q392,543 403,541.5" fill="none" stroke="#141414" stroke-width="3.1" stroke-linejoin="round" stroke-linecap="round" />
<path d="M390,555 Q395,546.5 404,545" fill="none" stroke="#141414" stroke-width="2.5" stroke-linejoin="round" stroke-linecap="round" />
<path d="M396,546 Q404,539.5 413,541" fill="none" stroke="#141414" stroke-width="1.6" stroke-linejoin="round" stroke-linecap="round" />
<path d="M409,561 L413,555 L413,562 Z" fill="#2a2a2a" stroke="#141414" stroke-width="0.9" stroke-linejoin="round" stroke-linecap="round" />
<ellipse cx="507" cy="560" rx="31" ry="35" transform="rotate(-14 507 560)" fill="#fff" stroke="#141414" stroke-width="2.9"/>
<ellipse cx="503" cy="565" rx="31" ry="35" transform="rotate(-14 503 565)" fill="#fff" stroke="#141414" stroke-width="1.8"/>
<ellipse cx="499" cy="570" rx="31" ry="35" transform="rotate(-14 499 570)" fill="#fff" stroke="#141414" stroke-width="2.9"/>
<ellipse cx="495" cy="575" rx="31" ry="35" transform="rotate(-14 495 575)" fill="#fff" stroke="#141414" stroke-width="1.8"/>
<ellipse cx="491" cy="579" rx="31" ry="35" transform="rotate(-14 491 579)" fill="#fff" stroke="#141414" stroke-width="2.9"/>
<path d="M455,558 Q462,543 476,541" fill="none" stroke="#141414" stroke-width="1.6" stroke-linejoin="round" stroke-linecap="round" />
<path d="M453,566 Q452,556 458,550" fill="none" stroke="#141414" stroke-width="1.3" stroke-linejoin="round" stroke-linecap="round" />
<ellipse cx="486.5" cy="584" rx="32" ry="36" transform="rotate(-14 486.5 584)" fill="#fff" stroke="#141414" stroke-width="4.3"/>
<ellipse cx="486.5" cy="584" rx="28" ry="32" transform="rotate(-14 486.5 584)" fill="#fff" stroke="#141414" stroke-width="2.5"/>
<ellipse cx="486.5" cy="584" rx="26" ry="30" transform="rotate(-14 486.5 584)" fill="#fff" stroke="#141414" stroke-width="1.3"/>
<path d="M482,559 Q483,582 512,592" fill="none" stroke="#141414" stroke-width="1.7" stroke-linejoin="round" stroke-linecap="round" />
<path d="M487,560 Q489,578 514,586" fill="none" stroke="#141414" stroke-width="1.3" stroke-linejoin="round" stroke-linecap="round" />
<path d="M452,558 l5,2 l-1,4 M451,566 l5,2" fill="none" stroke="#141414" stroke-width="1.3" stroke-linejoin="round" stroke-linecap="round" />
<path d="M498,484 L520,490 L520,506 L505,518 Z" fill="#fff" stroke="none"/>
<path d="M500,484 Q512,482 520,490 M508,520 Q518,514 520,502" fill="none" stroke="#141414" stroke-width="1.6" stroke-linejoin="round" stroke-linecap="round" />
<path d="M512,487 Q519,496 514,512" fill="none" stroke="#141414" stroke-width="1.3" stroke-linejoin="round" stroke-linecap="round" />
<path d="M503,520 L503,531 M509,518 L509,533 M506,519 L506,532" fill="none" stroke="#141414" stroke-width="1.3" stroke-linejoin="round" stroke-linecap="round" />
<ellipse cx="491" cy="502.5" rx="16.2" ry="18" transform="rotate(-14 491 502.5)" fill="#fff" stroke="#141414" stroke-width="4.3"/>
<ellipse cx="491.5" cy="502.5" rx="12.2" ry="14" transform="rotate(-14 491.5 502.5)" fill="#fff" stroke="#141414" stroke-width="1.5"/>
<path d="M484,492 Q482,505 490,514" fill="none" stroke="#141414" stroke-width="1.3" stroke-linejoin="round" stroke-linecap="round" />
<path d="M403.5,389.6 L452,402 Q455.8,400.8 453,398 L404.5,385.6 Q400.7,386.8 403.5,389.6 Z" fill="#fff" stroke="#141414" stroke-width="1.7" stroke-linejoin="round" stroke-linecap="round" />
<polygon points="414,390 420,385.2 442.6,392 442.6,619.1 437.4,623.7 414,617" fill="#fff" stroke="#141414" stroke-width="1.9" stroke-linejoin="round"/>
<polygon points="414,390 437.4,396.8 437.4,623.7 414,617" fill="#fff" stroke="#141414" stroke-width="1.9" stroke-linejoin="round"/>
<line x1="433.5" y1="395.7" x2="433.5" y2="622.6" stroke="#141414" stroke-width="1.5"/>
<line x1="437.4" y1="396.8" x2="442.6" y2="392" stroke="#141414" stroke-width="1.7"/>
<polygon points="418,389.4 422,386.4 439.2,391.6 435.2,394.6" fill="#fff" stroke="#141414" stroke-width="1.3" stroke-linejoin="round"/>
<path d="M513,420.6 L561.5,433.4 Q565.2,432.3 562.5,429.4 L514,416.6 Q510.3,417.7 513,420.6 Z" fill="#fff" stroke="#141414" stroke-width="1.7" stroke-linejoin="round" stroke-linecap="round" />
<polygon points="523,418.4 529,413.6 552.5,420.6 552.5,652 547.5,656.6 523,649.6" fill="#fff" stroke="#141414" stroke-width="1.9" stroke-linejoin="round"/>
<polygon points="523,418.4 547.5,425.5 547.5,656.6 523,649.6" fill="#fff" stroke="#141414" stroke-width="1.9" stroke-linejoin="round"/>
<line x1="544" y1="424.5" x2="544" y2="655.6" stroke="#141414" stroke-width="1.5"/>
<line x1="547.5" y1="425.5" x2="552.5" y2="420.6" stroke="#141414" stroke-width="1.7"/>
<polygon points="527,417.8 531,414.8 549.1,420.2 545.3,423.3" fill="#fff" stroke="#141414" stroke-width="1.3" stroke-linejoin="round"/>
<circle cx="559.6" cy="440.6" r="3.9" fill="#fff" stroke="#141414" stroke-width="1.6"/>
<circle cx="426" cy="463" r="8" fill="#fff" stroke="#141414" stroke-width="1.8"/>
<circle cx="426.5" cy="463.5" r="5.6" fill="#fff" stroke="#141414" stroke-width="1.9"/>
<circle cx="427" cy="463" r="3.2" fill="#fff" stroke="#141414" stroke-width="1.7"/>
<circle cx="427.2" cy="462.7" r="1.3" fill="#555" stroke="#141414" stroke-width="0.9"/>
<circle cx="424" cy="518" r="6.6" fill="#fff" stroke="#141414" stroke-width="1.7"/>
<circle cx="424.5" cy="518.3" r="3.8" fill="#fff" stroke="#141414" stroke-width="1.6"/>
<path d="M422,517 q2,-3 5,-1" fill="none" stroke="#141414" stroke-width="1" stroke-linejoin="round" stroke-linecap="round" />
<circle cx="425" cy="608" r="8" fill="#fff" stroke="#141414" stroke-width="1.8"/>
<circle cx="425.5" cy="608.5" r="5.6" fill="#fff" stroke="#141414" stroke-width="1.9"/>
<circle cx="426" cy="608" r="3.2" fill="#fff" stroke="#141414" stroke-width="1.7"/>
<circle cx="426.2" cy="607.7" r="1.3" fill="#555" stroke="#141414" stroke-width="0.9"/>
<circle cx="534" cy="494" r="8" fill="#fff" stroke="#141414" stroke-width="1.8"/>
<circle cx="534.5" cy="494.5" r="5.6" fill="#fff" stroke="#141414" stroke-width="1.9"/>
<circle cx="535" cy="494" r="3.2" fill="#fff" stroke="#141414" stroke-width="1.7"/>
<circle cx="535.2" cy="493.7" r="1.3" fill="#555" stroke="#141414" stroke-width="0.9"/>
<circle cx="534" cy="548" r="6.6" fill="#fff" stroke="#141414" stroke-width="1.7"/>
<circle cx="534.5" cy="548.3" r="3.8" fill="#fff" stroke="#141414" stroke-width="1.6"/>
<path d="M532,547 q2,-3 5,-1" fill="none" stroke="#141414" stroke-width="1" stroke-linejoin="round" stroke-linecap="round" />
<circle cx="534.5" cy="640" r="8" fill="#fff" stroke="#141414" stroke-width="1.8"/>
<circle cx="535" cy="640.5" r="5.6" fill="#fff" stroke="#141414" stroke-width="1.9"/>
<circle cx="535.5" cy="640" r="3.2" fill="#fff" stroke="#141414" stroke-width="1.7"/>
<circle cx="535.7" cy="639.7" r="1.3" fill="#555" stroke="#141414" stroke-width="0.9"/>
<rect x="336" y="656" width="28" height="96" fill="#fff" stroke="none"/>
<line x1="336.4" y1="655" x2="336.4" y2="752" stroke="#141414" stroke-width="2.5"/>
<line x1="348.5" y1="659" x2="348.5" y2="755.5" stroke="#141414" stroke-width="1.6"/>
<line x1="353.2" y1="659" x2="353.2" y2="757" stroke="#141414" stroke-width="1.6"/>
<line x1="357.7" y1="653" x2="357.7" y2="750" stroke="#141414" stroke-width="4.4"/>
<line x1="362.8" y1="651" x2="362.8" y2="745" stroke="#141414" stroke-width="1.6"/>
<path d="M334.5,655 L349.5,659 L360,650" fill="none" stroke="#141414" stroke-width="1.6" stroke-linejoin="round" stroke-linecap="round" />
<polygon points="353.6,631 353.6,659 361,652 361,633" fill="#fff" stroke="#141414" stroke-width="1.3" stroke-linejoin="round"/>
<ellipse cx="361.4" cy="645.2" rx="3.6" ry="5.2" transform="rotate(15 361.4 645.2)" fill="#fff" stroke="#141414" stroke-width="2.1"/>
<ellipse cx="361.2" cy="645.2" rx="1.6" ry="3.2" transform="rotate(15 361.2 645.2)" fill="#fff" stroke="#141414" stroke-width="1.1"/>
<polygon points="353.5,757 363,744.5 391,753 378,764" fill="#fff" stroke="#141414" stroke-width="1.6" stroke-linejoin="round"/>
<path d="M356.5,757.5 L365,746.5 L378,750.2 L369.5,761.3 Z" fill="#222" stroke="#141414" stroke-width="1.1" stroke-linejoin="round" stroke-linecap="round" />
<path d="M371,761.5 L379,751 L389.5,754 L380.5,763.8 Z" fill="#333" stroke="#141414" stroke-width="0.9" stroke-linejoin="round" stroke-linecap="round" />
<path d="M373.5,759.5 l5.2,-6 l4.6,1.3 l-5.2,6 Z" fill="#fff" stroke="#141414" stroke-width="0.7" stroke-linejoin="round" stroke-linecap="round" />
<path d="M381,759.8 l3.4,-4 l3.4,1 l-3.4,4 Z" fill="#fff" stroke="#141414" stroke-width="0.7" stroke-linejoin="round" stroke-linecap="round" />
<polygon points="334,751.5 378,764 378,772.5 334,760.5" fill="#fff" stroke="#141414" stroke-width="1.8" stroke-linejoin="round"/>
<path d="M378,764 L391,753 L391.5,762 L385.5,766.5 L385,769.5 L378,772.5" fill="#fff" stroke="#141414" stroke-width="1.7" stroke-linejoin="round" stroke-linecap="round" />
<circle cx="342.5" cy="749.3" r="2.4" fill="#fff" stroke="#141414" stroke-width="1.3"/>
<path d="M621.8,737.2 L637.5,741.4 L647.2,734.5 L647.2,830 L621.8,830 Z" fill="#fff" stroke="none"/>
<line x1="621" y1="737" x2="621" y2="828" stroke="#141414" stroke-width="1.7"/>
<line x1="635" y1="741" x2="635" y2="832" stroke="#141414" stroke-width="1.3"/>
<line x1="637.5" y1="741" x2="637.5" y2="832" stroke="#141414" stroke-width="1.3"/>
<line x1="648" y1="733" x2="648" y2="828" stroke="#141414" stroke-width="1.6"/>
<polygon points="592,826 607,814 648,826 650,828 650,836 637,847 592,834" fill="#fff" stroke="#141414" stroke-width="1.6" stroke-linejoin="round"/>
<path d="M592,826 L637,840 L650,828 M637,840 L637,847" fill="none" stroke="#141414" stroke-width="1.6" stroke-linejoin="round" stroke-linecap="round" />
<path d="M621.5,800 L647.5,800 L647.5,829 L636,839 L621.5,834 Z" fill="#fff" stroke="none"/>
<line x1="621" y1="800" x2="621" y2="834.5" stroke="#141414" stroke-width="1.7"/>
<line x1="635" y1="800" x2="635" y2="838" stroke="#141414" stroke-width="1.3"/>
<line x1="637.5" y1="800" x2="637.5" y2="838" stroke="#141414" stroke-width="1.3"/>
<line x1="648" y1="800" x2="648" y2="829" stroke="#141414" stroke-width="1.6"/>
<path d="M595.5,826.5 L606,816.2 L622,821 L622,834.5 Z" fill="#222" stroke="#141414" stroke-width="1.1" stroke-linejoin="round" stroke-linecap="round" />
<path d="M601,824.5 l4.5,-4 l4,1.2 l-4.5,4 Z M610.5,827.5 l4.5,-4.2 l4,1.2 l-4.5,4.2 Z" fill="#fff" stroke="#141414" stroke-width="0.8" stroke-linejoin="round" stroke-linecap="round" />
<circle cx="627" cy="831" r="2.5" fill="#fff" stroke="#141414" stroke-width="1.3"/>
<circle cx="614.5" cy="836.5" r="2.6" fill="#fff" stroke="#141414" stroke-width="1.5"/>
<path d="M640,843 l0,-3 l4,-4 M648,831 q3,1 2,5" fill="none" stroke="#141414" stroke-width="1.1" stroke-linejoin="round" stroke-linecap="round" />
<path d="M386,823 L434,798 Q447,796 447,808 Q447,815 444,818 L394,846 Z" fill="#fff" stroke="#141414" stroke-width="1.7" stroke-linejoin="round" stroke-linecap="round" />
<ellipse cx="381.7" cy="840.2" rx="12.5" ry="16" transform="rotate(0 381.7 840.2)" fill="#fff" stroke="#141414" stroke-width="1.6"/>
<ellipse cx="377.4" cy="842.4" rx="12.5" ry="16" transform="rotate(0 377.4 842.4)" fill="#fff" stroke="#141414" stroke-width="1.6"/>
<ellipse cx="373.1" cy="844.6" rx="12.5" ry="16" transform="rotate(0 373.1 844.6)" fill="#fff" stroke="#141414" stroke-width="1.6"/>
<ellipse cx="368.8" cy="846.8" rx="12.5" ry="16" transform="rotate(0 368.8 846.8)" fill="#fff" stroke="#141414" stroke-width="1.6"/>
<ellipse cx="364.5" cy="849" rx="12.5" ry="16" transform="rotate(0 364.5 849)" fill="#fff" stroke="#141414" stroke-width="1.9"/>
<ellipse cx="364.5" cy="849.5" rx="6.5" ry="8.2" transform="rotate(0 364.5 849.5)" fill="#fff" stroke="#141414" stroke-width="1.8"/>
<path d="M336,846 Q340,836 348,835 Q354,836 353,846 Q352,855 345,858 Q338,859 334,856" fill="#fff" stroke="#141414" stroke-width="1.6" stroke-linejoin="round" stroke-linecap="round" />
<ellipse cx="335.5" cy="851.5" rx="4.2" ry="5.6" transform="rotate(0 335.5 851.5)" fill="#fff" stroke="#141414" stroke-width="1.6"/>
<path d="M394,864 L428,849 Q449,846 450,866 Q450,878 447,885 L413,906 Z" fill="#fff" stroke="#141414" stroke-width="1.7" stroke-linejoin="round" stroke-linecap="round" />
<path d="M428,849 Q438,866 446,885" fill="none" stroke="#fff" stroke-width="0.1" stroke-linejoin="round" stroke-linecap="round" />
<path d="M414,866 Q418,858 426,857 Q434,858 434,866 Q433,874 426,878 Q418,879 413,876" fill="#fff" stroke="#141414" stroke-width="1.6" stroke-linejoin="round" stroke-linecap="round" />
<ellipse cx="413.5" cy="871.5" rx="4" ry="5.3" transform="rotate(0 413.5 871.5)" fill="#fff" stroke="#141414" stroke-width="1.6"/>
<ellipse cx="385" cy="903" rx="31" ry="37.5" transform="rotate(-6 385 903)" fill="#fff" stroke="#141414" stroke-width="1.8"/>
<path d="M363,867.5 L381,866 M371,942 L389,940.5" fill="none" stroke="#141414" stroke-width="1.8" stroke-linejoin="round" stroke-linecap="round" />
<path d="M380,868 Q405,876 409,904 Q410,924 396,938" fill="none" stroke="#141414" stroke-width="1.3" stroke-linejoin="round" stroke-linecap="round" />
<ellipse cx="367" cy="904.5" rx="31" ry="37.5" transform="rotate(-6 367 904.5)" fill="#fff" stroke="#141414" stroke-width="1.9"/>
<ellipse cx="367.5" cy="905" rx="27" ry="33.5" transform="rotate(-6 367.5 905)" fill="#fff" stroke="#141414" stroke-width="1.7"/>
<clipPath id="thr"><ellipse cx="367.5" cy="905" rx="26.3" ry="32.8" transform="rotate(-6 367.5 905)"/></clipPath>
<g clip-path="url(#thr)">
<ellipse cx="370.9" cy="904.2" rx="26.1" ry="33" transform="rotate(-6 370.9 904.2)" fill="none" stroke="#141414" stroke-width="1.2"/>
<ellipse cx="374.3" cy="903.4" rx="25.2" ry="32.5" transform="rotate(-6 374.3 903.4)" fill="none" stroke="#141414" stroke-width="1.2"/>
<ellipse cx="377.7" cy="902.6" rx="24.3" ry="32" transform="rotate(-6 377.7 902.6)" fill="none" stroke="#141414" stroke-width="1.2"/>
<ellipse cx="381.1" cy="901.8" rx="23.4" ry="31.5" transform="rotate(-6 381.1 901.8)" fill="none" stroke="#141414" stroke-width="1.2"/>
<ellipse cx="384.5" cy="901" rx="22.5" ry="31" transform="rotate(-6 384.5 901)" fill="none" stroke="#141414" stroke-width="1.2"/>
<ellipse cx="387.9" cy="900.2" rx="21.6" ry="30.5" transform="rotate(-6 387.9 900.2)" fill="none" stroke="#141414" stroke-width="1.2"/>
</g>
<path d="M507,855 Q490,896 480,940 Q475,960 474,978 Q492,984 510,987 Q535,992 556,1000 L558,998 Q566,988 578,982 Q590,976 602,972 Q596,940 588,904 Q583,875 578,858 L563,841 L556,854 Z" fill="#fff" stroke="#141414" stroke-width="1.7" stroke-linejoin="round" stroke-linecap="round" />
<polygon points="499,836 563,840 556,854 507,854 495,846" fill="#fff" stroke="#141414" stroke-width="1.7" stroke-linejoin="round"/>
<line x1="510" y1="845" x2="543" y2="847" stroke="#141414" stroke-width="1.3"/>
<polygon points="563,840 556,854 553,853 559,841" fill="#222" stroke="#141414" stroke-width="1.1" stroke-linejoin="round"/>
<path d="M560,858 Q562,920 558,998" fill="none" stroke="#141414" stroke-width="1.6" stroke-linejoin="round" stroke-linecap="round" />
<path d="M563,841 L578,858" fill="none" stroke="#141414" stroke-width="1.5" stroke-linejoin="round" stroke-linecap="round" />
<path d="M570,868 Q574,920 578,982" fill="none" stroke="#141414" stroke-width="1.5" stroke-linejoin="round" stroke-linecap="round" />
<path d="M575,930 Q577,960 580,981" fill="none" stroke="#141414" stroke-width="2.2" stroke-linejoin="round" stroke-linecap="round" />
<line x1="282" y1="63" x2="388.9" y2="106.5" stroke="#141414" stroke-width="1.9"/>
<polygon points="400,111 385.2,110.2 388.8,101.3" fill="#141414" stroke="#141414" stroke-width="0.6" stroke-linejoin="round"/>
<line x1="284.5" y1="127.5" x2="366" y2="145.3" stroke="#141414" stroke-width="1.9"/>
<line x1="282" y1="167" x2="340" y2="192.2" stroke="#141414" stroke-width="1.9"/>
<polygon points="351,197 336.2,195.8 340.1,187" fill="#141414" stroke="#141414" stroke-width="0.6" stroke-linejoin="round"/>
<line x1="281" y1="273" x2="499.6" y2="399" stroke="#141414" stroke-width="1.9"/>
<polygon points="510,405 495.5,402.2 500.3,393.8" fill="#141414" stroke="#141414" stroke-width="0.6" stroke-linejoin="round"/>
<line x1="281" y1="423" x2="457.8" y2="492.6" stroke="#141414" stroke-width="1.9"/>
<polygon points="469,497 454.2,496.3 457.7,487.4" fill="#141414" stroke="#141414" stroke-width="0.6" stroke-linejoin="round"/>
<line x1="284" y1="480" x2="403.4" y2="511" stroke="#141414" stroke-width="1.9"/>
<polygon points="415,514 400.2,515.1 402.7,505.8" fill="#141414" stroke="#141414" stroke-width="0.6" stroke-linejoin="round"/>
<line x1="281" y1="519" x2="477.9" y2="597.6" stroke="#141414" stroke-width="1.9"/>
<polygon points="489,602 474.2,601.3 477.8,592.4" fill="#141414" stroke="#141414" stroke-width="0.6" stroke-linejoin="round"/>
<line x1="282" y1="569" x2="343.1" y2="624" stroke="#141414" stroke-width="1.9"/>
<polygon points="352,632 338.4,626.2 344.8,619.1" fill="#141414" stroke="#141414" stroke-width="0.6" stroke-linejoin="round"/>
<line x1="282" y1="619" x2="332.9" y2="675.1" stroke="#141414" stroke-width="1.9"/>
<polygon points="341,684 328,676.9 335.1,670.4" fill="#141414" stroke="#141414" stroke-width="0.6" stroke-linejoin="round"/>
<line x1="280" y1="813" x2="354.5" y2="766" stroke="#141414" stroke-width="1.9"/>
<line x1="279" y1="876" x2="324" y2="879.2" stroke="#141414" stroke-width="1.9"/>
<polygon points="336,880 321.7,883.8 322.4,874.2" fill="#141414" stroke="#141414" stroke-width="0.6" stroke-linejoin="round"/>
<line x1="709" y1="38" x2="675.2" y2="83.4" stroke="#141414" stroke-width="1.9"/>
<polygon points="668,93 672.5,78.9 680.2,84.6" fill="#141414" stroke="#141414" stroke-width="0.6" stroke-linejoin="round"/>
<line x1="694" y1="268" x2="663.5" y2="315.9" stroke="#141414" stroke-width="1.9"/>
<polygon points="657,326 660.5,311.6 668.6,316.8" fill="#141414" stroke="#141414" stroke-width="0.6" stroke-linejoin="round"/>
<line x1="708" y1="660" x2="523" y2="583" stroke="#141414" stroke-width="1.9"/>
<line x1="709" y1="738" x2="528.8" y2="708" stroke="#141414" stroke-width="1.9"/>
<polygon points="517,706 531.6,703.6 530,713" fill="#141414" stroke="#141414" stroke-width="0.6" stroke-linejoin="round"/>
<line x1="707" y1="836" x2="650" y2="831" stroke="#141414" stroke-width="1.9"/>
<line x1="620" y1="898" x2="580" y2="914.9" stroke="#141414" stroke-width="1.9"/>
<polygon points="569,919.6 580,909.7 583.8,918.6" fill="#141414" stroke="#141414" stroke-width="0.6" stroke-linejoin="round"/>
<polygon points="352,759 363,760 357.3,768" fill="#141414" stroke="#141414" stroke-width="0.6" stroke-linejoin="round"/>
<text transform="translate(276,70) scale(0.98,1)" x="0" y="0" font-size="31" text-anchor="end">1</text>
<rect x="260.1" y="65.3" width="5.6" height="5.6" fill="#fff"/>
<rect x="270.9" y="65.3" width="4.6" height="5.6" fill="#fff"/>
<text transform="translate(279,130) scale(0.98,1)" x="0" y="0" font-size="31" text-anchor="end">17</text>
<rect x="246.2" y="125.3" width="5.6" height="5.6" fill="#fff"/>
<rect x="257" y="125.3" width="4.6" height="5.6" fill="#fff"/>
<text transform="translate(278,173) scale(0.98,1)" x="0" y="0" font-size="31" text-anchor="end">13</text>
<rect x="245.2" y="168.3" width="5.6" height="5.6" fill="#fff"/>
<rect x="256" y="168.3" width="4.6" height="5.6" fill="#fff"/>
<text transform="translate(277,278) scale(0.98,1)" x="0" y="0" font-size="31" text-anchor="end">7</text>
<text transform="translate(277,422) scale(0.98,1)" x="0" y="0" font-size="31" text-anchor="end">6</text>
<text transform="translate(277,477) scale(0.98,1)" x="0" y="0" font-size="31" text-anchor="end">11</text>
<rect x="244.2" y="472.3" width="5.6" height="5.6" fill="#fff"/>
<rect x="255" y="472.3" width="4.6" height="5.6" fill="#fff"/>
<rect x="261.1" y="472.3" width="5.6" height="5.6" fill="#fff"/>
<rect x="271.9" y="472.3" width="4.6" height="5.6" fill="#fff"/>
<text transform="translate(276,526) scale(0.98,1)" x="0" y="0" font-size="31" text-anchor="end">4</text>
<text transform="translate(277,567) scale(0.98,1)" x="0" y="0" font-size="31" text-anchor="end">12</text>
<rect x="244.2" y="562.3" width="5.6" height="5.6" fill="#fff"/>
<rect x="255" y="562.3" width="4.6" height="5.6" fill="#fff"/>
<text transform="translate(276,614) scale(0.98,1)" x="0" y="0" font-size="31" text-anchor="end">8</text>
<text transform="translate(278,824) scale(0.98,1)" x="0" y="0" font-size="31" text-anchor="end">15</text>
<rect x="245.2" y="819.3" width="5.6" height="5.6" fill="#fff"/>
<rect x="256" y="819.3" width="4.6" height="5.6" fill="#fff"/>
<text transform="translate(275,886) scale(0.98,1)" x="0" y="0" font-size="31" text-anchor="end">10</text>
<rect x="242.2" y="881.3" width="5.6" height="5.6" fill="#fff"/>
<rect x="253" y="881.3" width="4.6" height="5.6" fill="#fff"/>
<text transform="translate(747,29) scale(0.98,1)" x="0" y="0" font-size="31" text-anchor="end">14</text>
<rect x="714.2" y="24.3" width="5.6" height="5.6" fill="#fff"/>
<rect x="725" y="24.3" width="4.6" height="5.6" fill="#fff"/>
<text transform="translate(718,261) scale(0.98,1)" x="0" y="0" font-size="31" text-anchor="end">2</text>
<text transform="translate(735,674) scale(0.98,1)" x="0" y="0" font-size="31" text-anchor="end">3</text>
<text transform="translate(730,750) scale(0.98,1)" x="0" y="0" font-size="31" text-anchor="end">5</text>
<text transform="translate(747,845) scale(0.98,1)" x="0" y="0" font-size="31" text-anchor="end">16</text>
<rect x="714.2" y="840.3" width="5.6" height="5.6" fill="#fff"/>
<rect x="725" y="840.3" width="4.6" height="5.6" fill="#fff"/>
<text transform="translate(646,903) scale(0.98,1)" x="0" y="0" font-size="31" text-anchor="end">9</text>
</svg>
</body></html>
